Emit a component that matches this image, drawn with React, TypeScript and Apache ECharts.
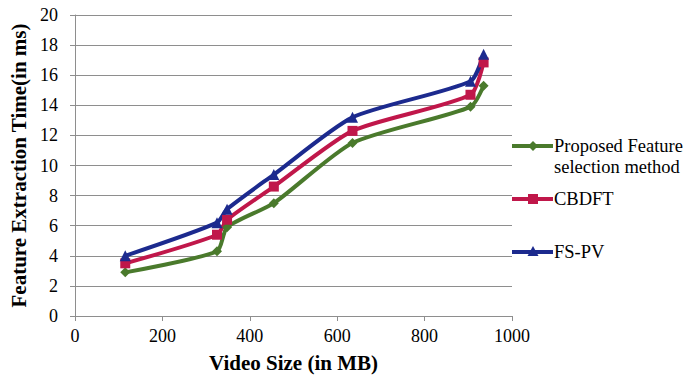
import React, { useEffect, useRef } from "react";
import * as echarts from "echarts";

// Video sizes (MB) at which extraction time was measured
const videoSizes = [115, 325, 348, 455, 635, 905, 935];

// Feature extraction time (ms) per method
const proposedTimes = [2.9, 4.3, 5.9, 7.5, 11.5, 13.9, 15.3];
const cbdftTimes = [3.5, 5.4, 6.4, 8.6, 12.3, 14.7, 16.85];
const fspvTimes = [4.0, 6.2, 7.1, 9.4, 13.2, 15.6, 17.4];

const seriesNames = ["Proposed Feature\nselection method", "CBDFT", "FS-PV"];
const seriesColors = ["#4a7a2c", "#c0174a", "#1c2a8e"];

const FONT = "Liberation Serif";
const GRID_COLOR = "#8e8e8e";

function pairs(xs: number[], ys: number[]) {
  return xs.map((x, i) => [x, ys[i]]);
}

export default function App() {
  const ref = useRef<HTMLDivElement>(null);

  useEffect(() => {
    if (!ref.current) return;
    const chart = echarts.init(ref.current, null, { renderer: "svg" });

    const lineSeries = (name: string, data: number[], color: string, symbol: string, size: number) => ({
      type: "line",
      name,
      data: pairs(videoSizes, data),
      smooth: 0.22,
      symbol,
      symbolSize: size,
      showSymbol: true,
      lineStyle: { color, width: 4 },
      itemStyle: { color, borderWidth: 0 },
      z: 3,
    });

    // Legend drawn by hand so the icon lines up with the first text row
    const legendX0 = 512;
    const legendX1 = 553;
    const legendMid = 533;
    const legendRows = [146, 199, 252];
    const legendGraphics: any[] = [];
    legendRows.forEach((y, i) => {
      const color = seriesColors[i];
      legendGraphics.push({
        type: "line",
        shape: { x1: legendX0, y1: y, x2: legendX1, y2: y },
        style: { stroke: color, lineWidth: 4 },
      });
      if (i === 0) {
        legendGraphics.push({
          type: "polygon",
          shape: { points: [[legendMid, y - 5], [legendMid + 5, y], [legendMid, y + 5], [legendMid - 5, y]] },
          style: { fill: color },
        });
      } else if (i === 1) {
        legendGraphics.push({
          type: "rect",
          shape: { x: legendMid - 5, y: y - 5, width: 10, height: 10 },
          style: { fill: color },
        });
      } else {
        legendGraphics.push({
          type: "polygon",
          shape: { points: [[legendMid, y - 6], [legendMid + 5.5, y + 4], [legendMid - 5.5, y + 4]] },
          style: { fill: color },
        });
      }
      legendGraphics.push({
        type: "text",
        x: legendX1 + 1,
        y: y - 10.5,
        style: {
          text: seriesNames[i],
          fontFamily: FONT,
          fontSize: 18.5,
          fill: "#000",
          lineHeight: 21,
          verticalAlign: "top",
          align: "left",
        },
      });
    });

    chart.setOption({
      animation: false,
      backgroundColor: "#fff",
      grid: { left: 75, right: 175, top: 15, bottom: 62 },
      xAxis: {
        type: "value",
        min: 0,
        max: 1000,
        interval: 200,
        name: "Video Size (in MB)",
        nameLocation: "middle",
        nameGap: 36,
        nameTextStyle: { fontFamily: FONT, fontSize: 21, fontWeight: "bold", color: "#000" },
        axisLine: { show: true, lineStyle: { color: GRID_COLOR, width: 1 } },
        axisTick: { show: true, inside: false, length: 5, lineStyle: { color: GRID_COLOR } },
        axisLabel: {
          fontFamily: FONT,
          fontSize: 18,
          color: "#000",
          margin: 11,
          formatter: (v: number) => String(v),
        },
        splitLine: { show: false },
      },
      yAxis: {
        type: "value",
        min: 0,
        max: 20,
        interval: 2,
        name: "Feature Extraction Time(in ms)",
        nameLocation: "middle",
        nameGap: 46,
        nameTextStyle: { fontFamily: FONT, fontSize: 21, fontWeight: "bold", color: "#000" },
        axisLine: { show: true, lineStyle: { color: GRID_COLOR, width: 1 } },
        axisTick: { show: true, inside: false, length: 5, lineStyle: { color: GRID_COLOR } },
        axisLabel: {
          fontFamily: FONT,
          fontSize: 18,
          color: "#000",
          margin: 17,
          formatter: (v: number) => String(v),
        },
        splitLine: { show: true, lineStyle: { color: GRID_COLOR, width: 1 } },
      },
      series: [
        lineSeries(seriesNames[0], proposedTimes, seriesColors[0], "diamond", 10),
        lineSeries(seriesNames[1], cbdftTimes, seriesColors[1], "rect", 10),
        lineSeries(seriesNames[2], fspvTimes, seriesColors[2], "triangle", 11),
      ],
      graphic: legendGraphics,
    });

    return () => chart.dispose();
  }, []);

  return (
    <div
      ref={ref}
      style={{ position: "fixed", left: 0, top: 0, width: 687, height: 378, background: "#fff" }}
    />
  );
}
